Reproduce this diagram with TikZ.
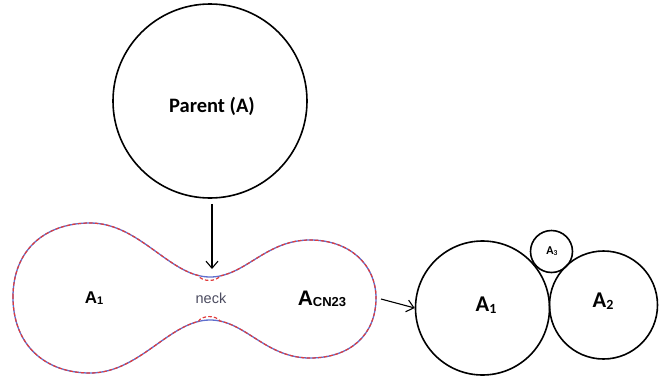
\documentclass[tikz,border=0pt]{standalone}
\usepackage{fontspec}
\setmainfont{Carlito}
\newfontfamily\arialfont{Liberation Sans}
\usetikzlibrary{arrows.meta}
\definecolor{outlineblue}{RGB}{95,110,205}
\definecolor{outlinered}{RGB}{225,60,60}
\definecolor{neckgray}{RGB}{75,75,95}
% small index set close to the baseline
\newcommand{\lowidx}[2]{{\fontsize{#1}{#1}\selectfont\raisebox{-1.5pt}{#2}}}
\begin{document}
\begin{tikzpicture}[x=1pt,y=-1pt,
  cell/.style={circle,draw=black,line width=1.6pt,inner sep=0pt},
  conn/.style={-{Straight Barb[length=7pt,width=12pt]},line width=1.1pt},
  bluelin/.style={draw=outlineblue,line width=1.3pt},
  redlin/.style={draw=outlinered,line width=1.2pt,dash pattern=on 3.5pt off 2.2pt},
  lbl/.style={font=\arialfont\bfseries\fontsize{17}{17}\selectfont,inner sep=0pt},
  clbl/.style={font=\bfseries\fontsize{22.5}{22.5}\selectfont,inner sep=0pt}]
\useasboundingbox (0,0) rectangle (670,381);

% parent cell
\node[cell,minimum size=194pt] (parent) at (210,101) {};
\node[font=\bfseries\fontsize{20.5}{20.5}\selectfont,inner sep=0pt] (ptext) at (212,106) {Parent (A)};

% dumbbell outline (blue solid)
\path[bluelin] (13,297) .. controls (13,250) and (45,223) .. (90,223)
  .. controls (140,223) and (170,277) .. (210,277)
  .. controls (245,277) and (265,240) .. (310,240)
  .. controls (350,240) and (376,265) .. (376,298)
  .. controls (376,335) and (350,358) .. (310,358)
  .. controls (265,358) and (245,320) .. (210,320)
  .. controls (170,320) and (140,373) .. (90,373)
  .. controls (45,373) and (13,345) .. (13,297) -- cycle;
% dumbbell outline (red dashed), bulging into the neck
\path[redlin] (13,297) .. controls (13,250) and (45,223) .. (90,223)
  .. controls (135,223) and (163.8,266.74) .. (198.27,275.49)
  .. controls (202,282) and (216,282) .. (220.09,275.96)
  .. controls (249.25,269.97) and (269.5,240) .. (310,240)
  .. controls (350,240) and (376,265) .. (376,298)
  .. controls (376,335) and (350,358) .. (310,358)
  .. controls (269.5,358) and (249.25,327.22) .. (220.09,321.06)
  .. controls (216,315) and (202,315) .. (198.27,321.48)
  .. controls (163.8,330.07) and (135,373) .. (90,373)
  .. controls (45,373) and (13,345) .. (13,297) -- cycle;
\coordinate (necktop) at (212,269);
\coordinate (dbright) at (381,299);

\node[lbl] (da1) at (94,298) {A\lowidx{11}{1}};
\node[font=\arialfont\bfseries\fontsize{21}{21}\selectfont,inner sep=0pt] (dacn) at (322,299) {A\lowidx{13}{CN23}};
\node[font=\arialfont\fontsize{14.5}{14.5}\selectfont,text=neckgray,inner sep=0pt] (neck) at (211,298) {neck};

% daughter cells
\node[cell,minimum size=134pt] (c1) at (482.5,308) {};
\node[cell,minimum size=108pt] (c2) at (603.5,305) {};
\node[cell,minimum size=42pt] (c3) at (551.5,251.5) {};
\node[clbl] (t1) at (486,305) {A\lowidx{14}{1}};
\node[clbl] (t2) at (603,301) {A\lowidx{14}{2}};
\node[font=\bfseries\fontsize{12}{12}\selectfont,inner sep=0pt] (t3) at (552,251) {A\lowidx{7.5}{3}};

% connectors
\draw[conn] (parent.south) ++(2,5) coordinate (pbot) -- (necktop);
\draw[conn] (dbright) -- (c1.west);
\end{tikzpicture}
\end{document}
